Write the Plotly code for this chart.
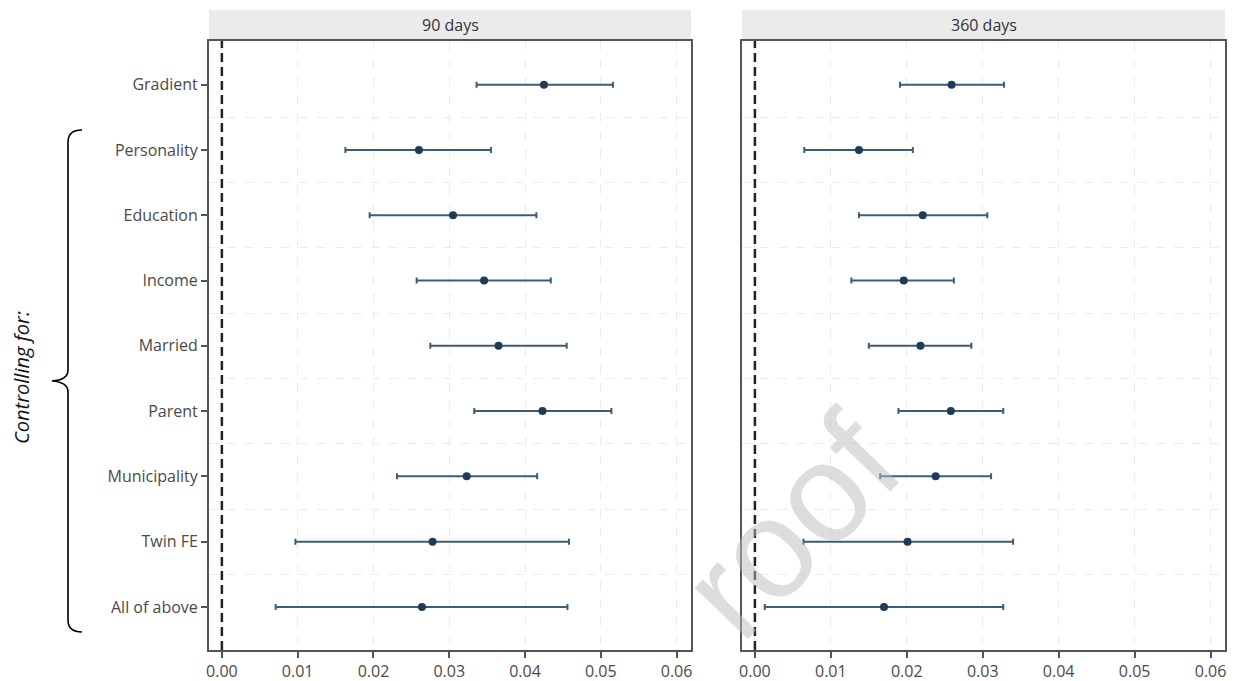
import plotly.graph_objects as go

categories = ["Gradient", "Personality", "Education", "Income", "Married",
              "Parent", "Municipality", "Twin FE", "All of above"]

est_90 = [0.0425, 0.0260, 0.0305, 0.0346, 0.0365, 0.0423, 0.0323, 0.0278, 0.0264]
low_90 = [0.0336, 0.0163, 0.0195, 0.0257, 0.0275, 0.0333, 0.0231, 0.0097, 0.0071]
high_90 = [0.0516, 0.0355, 0.0415, 0.0434, 0.0455, 0.0514, 0.0416, 0.0458, 0.0456]

est_360 = [0.0259, 0.0137, 0.0221, 0.0196, 0.0218, 0.0258, 0.0238, 0.0201, 0.0170]
low_360 = [0.0191, 0.0065, 0.0137, 0.0127, 0.0150, 0.0189, 0.0165, 0.0064, 0.0013]
high_360 = [0.0328, 0.0208, 0.0306, 0.0262, 0.0285, 0.0327, 0.0311, 0.0340, 0.0327]

panel_titles = ["90 days", "360 days"]
x_ticks = [0.00, 0.01, 0.02, 0.03, 0.04, 0.05, 0.06]

W, H = 1237, 681
ML, MR, MT, MB = 209, 12, 41, 31
PW = W - ML - MR
PH = H - MT - MB


def px(x):
    return (x - ML) / PW


def py(y):
    return (H - MB - y) / PH


ypos = list(range(len(categories)))
fig = go.Figure()

bar_color = "#3f5c76"
dot_color = "#1f3b58"
font_main = "Open Sans, Noto Sans, sans-serif"

for i, (est, lo, hi) in enumerate([(est_90, low_90, high_90), (est_360, low_360, high_360)]):
    xa = "x" if i == 0 else "x2"
    ya = "y" if i == 0 else "y2"
    fig.add_trace(go.Scatter(
        x=est, y=ypos, mode="markers", xaxis=xa, yaxis=ya,
        marker=dict(color=dot_color, size=8),
        error_x=dict(type="data", symmetric=False,
                     array=[h - e for h, e in zip(hi, est)],
                     arrayminus=[e - l for e, l in zip(est, lo)],
                     color=bar_color, thickness=2, width=3),
        showlegend=False, hoverinfo="skip"))

dom1 = [0, px(691)]
dom2 = [px(742), 1]

axis_common = dict(
    range=[-0.0017, 0.0619], tickvals=x_ticks, tickformat=".2f",
    ticks="outside", ticklen=6, tickwidth=2, tickcolor="#555555",
    showline=True, linecolor="#555555", linewidth=2, mirror=True,
    showgrid=True, gridcolor="#ebebeb", griddash="dash", gridwidth=1,
    zeroline=False, automargin=False,
    tickfont=dict(family=font_main, size=16, color="#4a4a4a"),
)
yaxis_common = dict(
    range=[8.66, -0.67], tickvals=ypos, ticktext=categories,
    showline=True, linecolor="#555555", linewidth=2, mirror=True,
    showgrid=False, zeroline=False, automargin=False,
    minor=dict(tickvals=[k + 0.5 for k in range(len(categories) - 1)],
               showgrid=True, gridcolor="#ebebeb", griddash="dash", gridwidth=1,
               ticks=""),
    tickfont=dict(family=font_main, size=16, color="#4a4a4a"),
)

fig.update_layout(
    width=W, height=H,
    margin=dict(l=ML, r=MR, t=MT, b=MB, autoexpand=False),
    paper_bgcolor="white", plot_bgcolor="white",
    xaxis=dict(domain=dom1, anchor="y", **axis_common),
    xaxis2=dict(domain=dom2, anchor="y2", **axis_common),
    yaxis=dict(domain=[0, 1], anchor="x", ticks="outside", ticklen=6, tickwidth=2,
               tickcolor="#555555", showticklabels=True, **yaxis_common),
    yaxis2=dict(domain=[0, 1], anchor="x2", ticks="", showticklabels=False, **yaxis_common),
)

shapes = []
annotations = []
for dom, title, xr in [(dom1, panel_titles[0], "x"), (dom2, panel_titles[1], "x2")]:
    shapes.append(dict(type="rect", xref="paper", yref="paper",
                       x0=dom[0], x1=dom[1], y0=1.003, y1=py(10),
                       fillcolor="#ebebeb", line=dict(width=0), layer="below"))
    annotations.append(dict(text=title, xref="paper", yref="paper",
                            x=(dom[0] + dom[1]) / 2, y=(1 + py(10)) / 2,
                            xanchor="center", yanchor="middle", showarrow=False,
                            font=dict(family=font_main, size=16, color="#333333")))
    ya = "y domain" if xr == "x" else "y2 domain"
    shapes.append(dict(type="line", xref=xr, yref=ya, x0=0, x1=0, y0=0, y1=1,
                       line=dict(color="#222222", width=2.5, dash="9px,5px")))

# brace
pts = [(82, 130), (68, 130), (68, 142), (68, 370), (68, 380), (52, 381),
       (68, 382), (68, 392), (68, 620), (68, 632), (82, 632)]
c = [(px(a), py(b)) for a, b in pts]
path = (f"M {c[0][0]},{c[0][1]} Q {c[1][0]},{c[1][1]} {c[2][0]},{c[2][1]} "
        f"L {c[3][0]},{c[3][1]} Q {c[4][0]},{c[4][1]} {c[5][0]},{c[5][1]} "
        f"Q {c[6][0]},{c[6][1]} {c[7][0]},{c[7][1]} "
        f"L {c[8][0]},{c[8][1]} Q {c[9][0]},{c[9][1]} {c[10][0]},{c[10][1]}")
shapes.append(dict(type="path", xref="paper", yref="paper", path=path,
                   line=dict(color="black", width=1.6)))

annotations.append(dict(text="<i>Controlling for:</i>", xref="paper", yref="paper",
                        x=px(21), y=py(378), textangle=-90, showarrow=False,
                        xanchor="center", yanchor="middle",
                        font=dict(family=font_main, size=20, color="#111111")))

# watermark fragment
annotations.append(dict(text="roof", xref="paper", yref="paper",
                        x=px(790), y=py(525), textangle=-46, showarrow=False,
                        xanchor="center", yanchor="middle", opacity=0.5,
                        font=dict(family="Liberation Sans, Arial, sans-serif",
                                  size=140, color="#bdbdbd")))

fig.update_layout(shapes=shapes, annotations=annotations)
fig.write_html("out.html")
